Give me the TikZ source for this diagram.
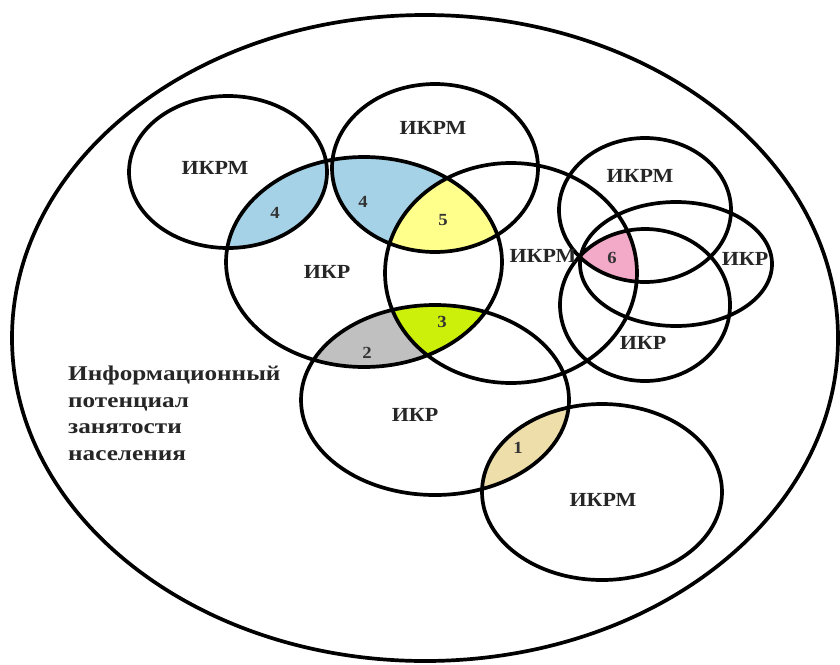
\documentclass[tikz,border=0pt]{standalone}
\usepackage{fontspec}
\setmainfont{Liberation Serif}[FakeStretch=1.1]
\newfontfamily\widefont{Liberation Serif}[FakeStretch=1.2]
\definecolor{zoneBlue}{HTML}{A5D2E6}
\definecolor{zoneYellow}{HTML}{FFFF8C}
\definecolor{zoneGreen}{HTML}{CDF00A}
\definecolor{zoneGrey}{HTML}{C0C0C0}
\definecolor{zoneTan}{HTML}{EDDEAA}
\definecolor{zonePink}{HTML}{F2AAC8}
\tikzset{
  ring/.style={line width=3.7pt},
  zonelabel/.style={font=\bfseries\fontsize{20}{24}\selectfont, inner sep=0pt, text=black!85},
  zonenum/.style={font=\bfseries\fontsize{17}{20}\selectfont, inner sep=0pt, text=black!80}
}
% ellipses of the diagram
\def\ellA{(228,172) ellipse [x radius=99, y radius=76]}
\def\ellB{(435,168) ellipse [x radius=103, y radius=84]}
\def\ellC{(364,262) ellipse [x radius=138, y radius=105]}
\def\ellD{(511,273) ellipse [x radius=126, y radius=110]}
\def\ellE{(435,400) ellipse [x radius=134, y radius=95]}
\def\ellF{(602,492) ellipse [x radius=120, y radius=88]}
\def\ellG{(645,210) ellipse [x radius=86, y radius=72]}
\def\ellH{(676,264) ellipse [x radius=96, y radius=62]}
\def\ellI{(645,305) ellipse [x radius=85, y radius=76]}

\begin{document}
\begin{tikzpicture}[x=1pt, y=-1pt]
  \useasboundingbox (0,0) rectangle (840,664);
  % shaded zones
  \begin{scope} \clip \ellA; \fill[zoneBlue] \ellC; \end{scope}
  \begin{scope} \clip \ellB; \fill[zoneBlue] \ellC; \clip \ellC; \fill[zoneYellow] \ellD; \end{scope}
  \begin{scope} \clip \ellC; \fill[zoneGrey] \ellE; \clip \ellE; \fill[zoneGreen] \ellD; \end{scope}
  \begin{scope} \clip \ellE; \fill[zoneTan] \ellF; \end{scope}
  \begin{scope} \clip \ellD; \clip \ellG; \fill[zonePink] \ellI; \end{scope}
  % outlines
  \draw[ring] (425,338) ellipse [x radius=413, y radius=323];
  \draw[ring] \ellA \ellB \ellC \ellD \ellE \ellF \ellG \ellH \ellI;
  % labels
  \node[zonelabel] (ikrmA) at (215,168) {ИКРМ};
  \node[zonelabel] (ikrmB) at (433,128) {ИКРМ};
  \node[zonelabel] (ikrC) at (327,272) {ИКР};
  \node[zonelabel] (ikrmD) at (543,256) {ИКРМ};
  \node[zonelabel] (ikrE) at (415,415) {ИКР};
  \node[zonelabel] (ikrmF) at (603,500) {ИКРМ};
  \node[zonelabel] (ikrmG) at (640,176) {ИКРМ};
  \node[zonelabel] (ikrH) at (745,259) {ИКР};
  \node[zonelabel] (ikrI) at (643,343) {ИКР};
  \node[zonenum] (n1) at (518,448) {1};
  \node[zonenum] (n2) at (367,353) {2};
  \node[zonenum] (n3) at (442,322) {3};
  \node[zonenum] (n4a) at (275,213) {4};
  \node[zonenum] (n4b) at (363,202) {4};
  \node[zonenum] (n5) at (443,220) {5};
  \node[zonenum] (n6) at (612,258) {6};
  \node[zonelabel, font=\widefont\bfseries\fontsize{21}{26.5}\selectfont, align=left, anchor=north west]
    (potential) at (68,366) {Информационный\\потенциал\\занятости\\населения};
\end{tikzpicture}
\end{document}
